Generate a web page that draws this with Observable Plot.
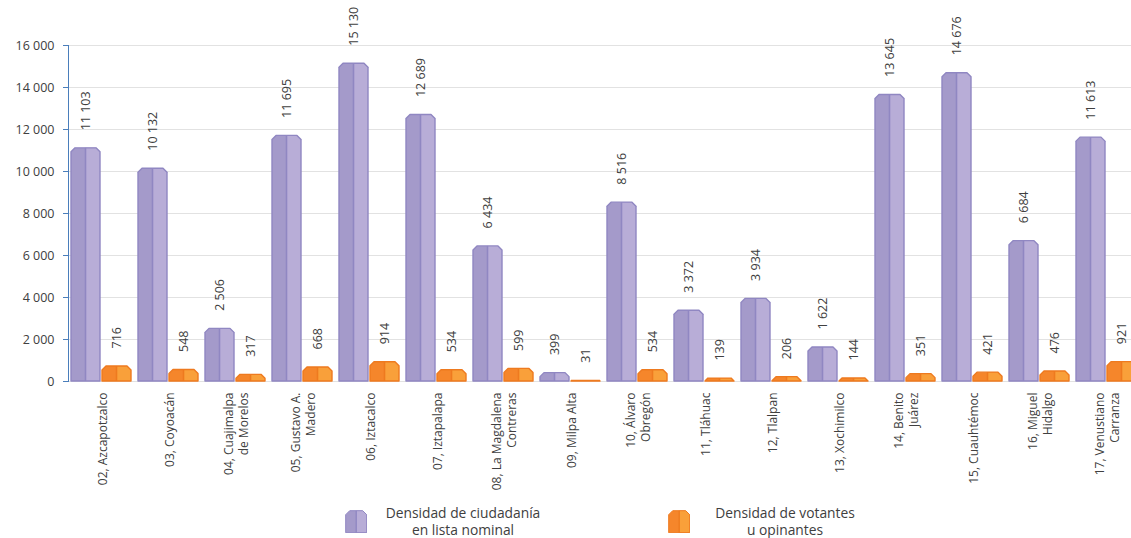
<!DOCTYPE html>
<html><head><meta charset="utf-8">
<script src="https://cdn.jsdelivr.net/npm/d3@7"></script>
<script src="https://cdn.jsdelivr.net/npm/@observablehq/plot@0.6"></script>
<style>
html,body{margin:0;padding:0;background:#fff;overflow:hidden;}
#chart{position:relative;width:1131px;height:538px;overflow:hidden;font-family:"Open Sans",sans-serif;color:#404040;}
#plot svg{display:block;max-width:none !important;width:1141px;height:500px;}
.lg-sw{position:absolute;top:510px;}
.lg-tx{position:absolute;top:505px;width:200px;text-align:center;font-size:13.8px;line-height:16.5px;color:#404040;}
</style></head>
<body><div id="chart"><div id="plot"></div>
<svg class="lg-sw" style="left:345px" width="22" height="23" id="sw1"></svg>
<div class="lg-tx" style="left:363px">Densidad de ciudadanía<br>en lista nominal</div>
<svg class="lg-sw" style="left:668px" width="22" height="23" id="sw2"></svg>
<div class="lg-tx" style="left:685px">Densidad de votantes<br>u opinantes</div>
</div>
<script>
const categories = [
  "02, Azcapotzalco", "03, Coyoacán", "04, Cuajimalpa\nde Morelos", "05, Gustavo A.\nMadero",
  "06, Iztacalco", "07, Iztapalapa", "08, La Magdalena\nContreras", "09, Milpa Alta",
  "10, Álvaro\nObregón", "11, Tláhuac", "12, Tlalpan", "13, Xochimilco",
  "14, Benito\nJuárez", "15, Cuauhtémoc", "16, Miguel\nHidalgo", "17, Venustiano\nCarranza"
];
const ciudadania = [11103, 10132, 2506, 11695, 15130, 12689, 6434, 399, 8516, 3372, 3934, 1622, 13645, 14676, 6684, 11613];
const votantes = [716, 548, 317, 668, 914, 534, 599, 31, 534, 139, 206, 144, 351, 421, 476, 921];
const seriesKeys = ["ciudadania", "votantes"];
const yTicks = [0, 2000, 4000, 6000, 8000, 10000, 12000, 14000, 16000];

const palette = {
  "#a49aca": {base: "#a49aca", light: "#b8add7", edge: "#9087c2"},
  "#f5862b": {base: "#f5862b", light: "#f9a03a", edge: "#ee7a1f"}
};

const rows = [];
categories.forEach((c, i) => {
  rows.push({cat: c, series: "ciudadania", value: ciudadania[i]});
  rows.push({cat: c, series: "votantes", value: votantes[i]});
});

const fmt = d => d3.format(",")(d).replace(/,/g, " ");

const plot = Plot.plot({
  width: 1141, height: 500,
  marginLeft: 66, marginRight: 0, marginTop: 45, marginBottom: 119,
  style: {fontFamily: "'Open Sans', sans-serif", fontSize: "12px", color: "#404040", background: "transparent"},
  fx: {domain: categories, padding: 0, label: null},
  x: {domain: seriesKeys, paddingInner: 0.063, paddingOuter: 0.095, axis: null},
  y: {domain: [0, 16000], axis: null},
  color: {domain: seriesKeys, range: ["#a49aca", "#f5862b"]},
  marks: [
    Plot.gridY(yTicks, {stroke: "#e2e2e2", strokeOpacity: 1}),
    Plot.axisY(yTicks, {tickSize: 5, tickPadding: 9, tickFormat: fmt, stroke: "#4a7ebb", fill: "#404040", label: null, fontSize: 12.5}),
    Plot.frame({anchor: "left", facetAnchor: "left", stroke: "#4a7ebb"}),
    Plot.axisFx({anchor: "bottom", tickRotate: -90, tickSize: 0, tickPadding: 11, label: null, fontSize: 12, lineHeight: 1.17, fill: "#404040"}),
    Plot.barY(rows, {fx: "cat", x: "series", y: "value", fill: "series"}),
    Plot.text(rows, {fx: "cat", x: "series", y: "value", text: d => fmt(d.value), rotate: -90, textAnchor: "start", dy: -18, fill: "#404040", fontSize: 12.5})
  ]
});
document.getElementById("plot").appendChild(plot);

const NS = "http://www.w3.org/2000/svg";
function drawBevelBar(parent, before, x, y, w, h, pal) {
  const b = Math.min(4, h, w / 2);
  const g = document.createElementNS(NS, "g");
  const mk = (tag, attrs) => { const e = document.createElementNS(NS, tag); for (const k in attrs) e.setAttribute(k, attrs[k]); g.appendChild(e); return e; };
  const outline = `M${x},${y + h}V${y + b}L${x + b},${y}H${x + w - b}L${x + w},${y + b}V${y + h}Z`;
  mk("path", {d: outline, fill: pal.base});
  const m = x + w / 2;
  mk("path", {d: `M${m},${y + h}V${y}H${x + w - b}L${x + w},${y + b}V${y + h}Z`, fill: pal.light});
  if (h > 1.5) mk("line", {x1: m, x2: m, y1: y, y2: y + h, stroke: pal.edge, "stroke-width": 1.6});
  mk("path", {d: outline, fill: "none", stroke: pal.edge, "stroke-width": 1.4, "stroke-linejoin": "round"});
  parent.insertBefore(g, before);
}
plot.querySelectorAll('g[aria-label="bar"] rect').forEach(r => {
  const x = +r.getAttribute("x"), y = +r.getAttribute("y"), w = +r.getAttribute("width"), h = +r.getAttribute("height");
  const pal = palette[r.getAttribute("fill")] || palette["#a49aca"];
  drawBevelBar(r.parentNode, r, x, y, w, h, pal);
  r.remove();
});

// legend swatches
function swatch(id, pal) {
  const s = document.getElementById(id);
  const w = 21, h = 22, x = 0.7, y = 0.7;
  const b = 4;
  const outline = `M${x},${y + h}V${y + b}L${x + b},${y}H${x + w - b}L${x + w},${y + b}V${y + h}Z`;
  const m = x + w / 2;
  s.innerHTML = `<path d="${outline}" fill="${pal.base}"/>` +
    `<path d="M${m},${y + h}V${y}H${x + w - b}L${x + w},${y + b}V${y + h}Z" fill="${pal.light}"/>` +
    `<line x1="${m}" x2="${m}" y1="${y}" y2="${y + h}" stroke="${pal.edge}" stroke-width="1.4"/>` +
    `<path d="${outline}" fill="none" stroke="${pal.edge}" stroke-width="1"/>`;
}
swatch("sw1", palette["#a49aca"]);
swatch("sw2", palette["#f5862b"]);
</script>
</body></html>
